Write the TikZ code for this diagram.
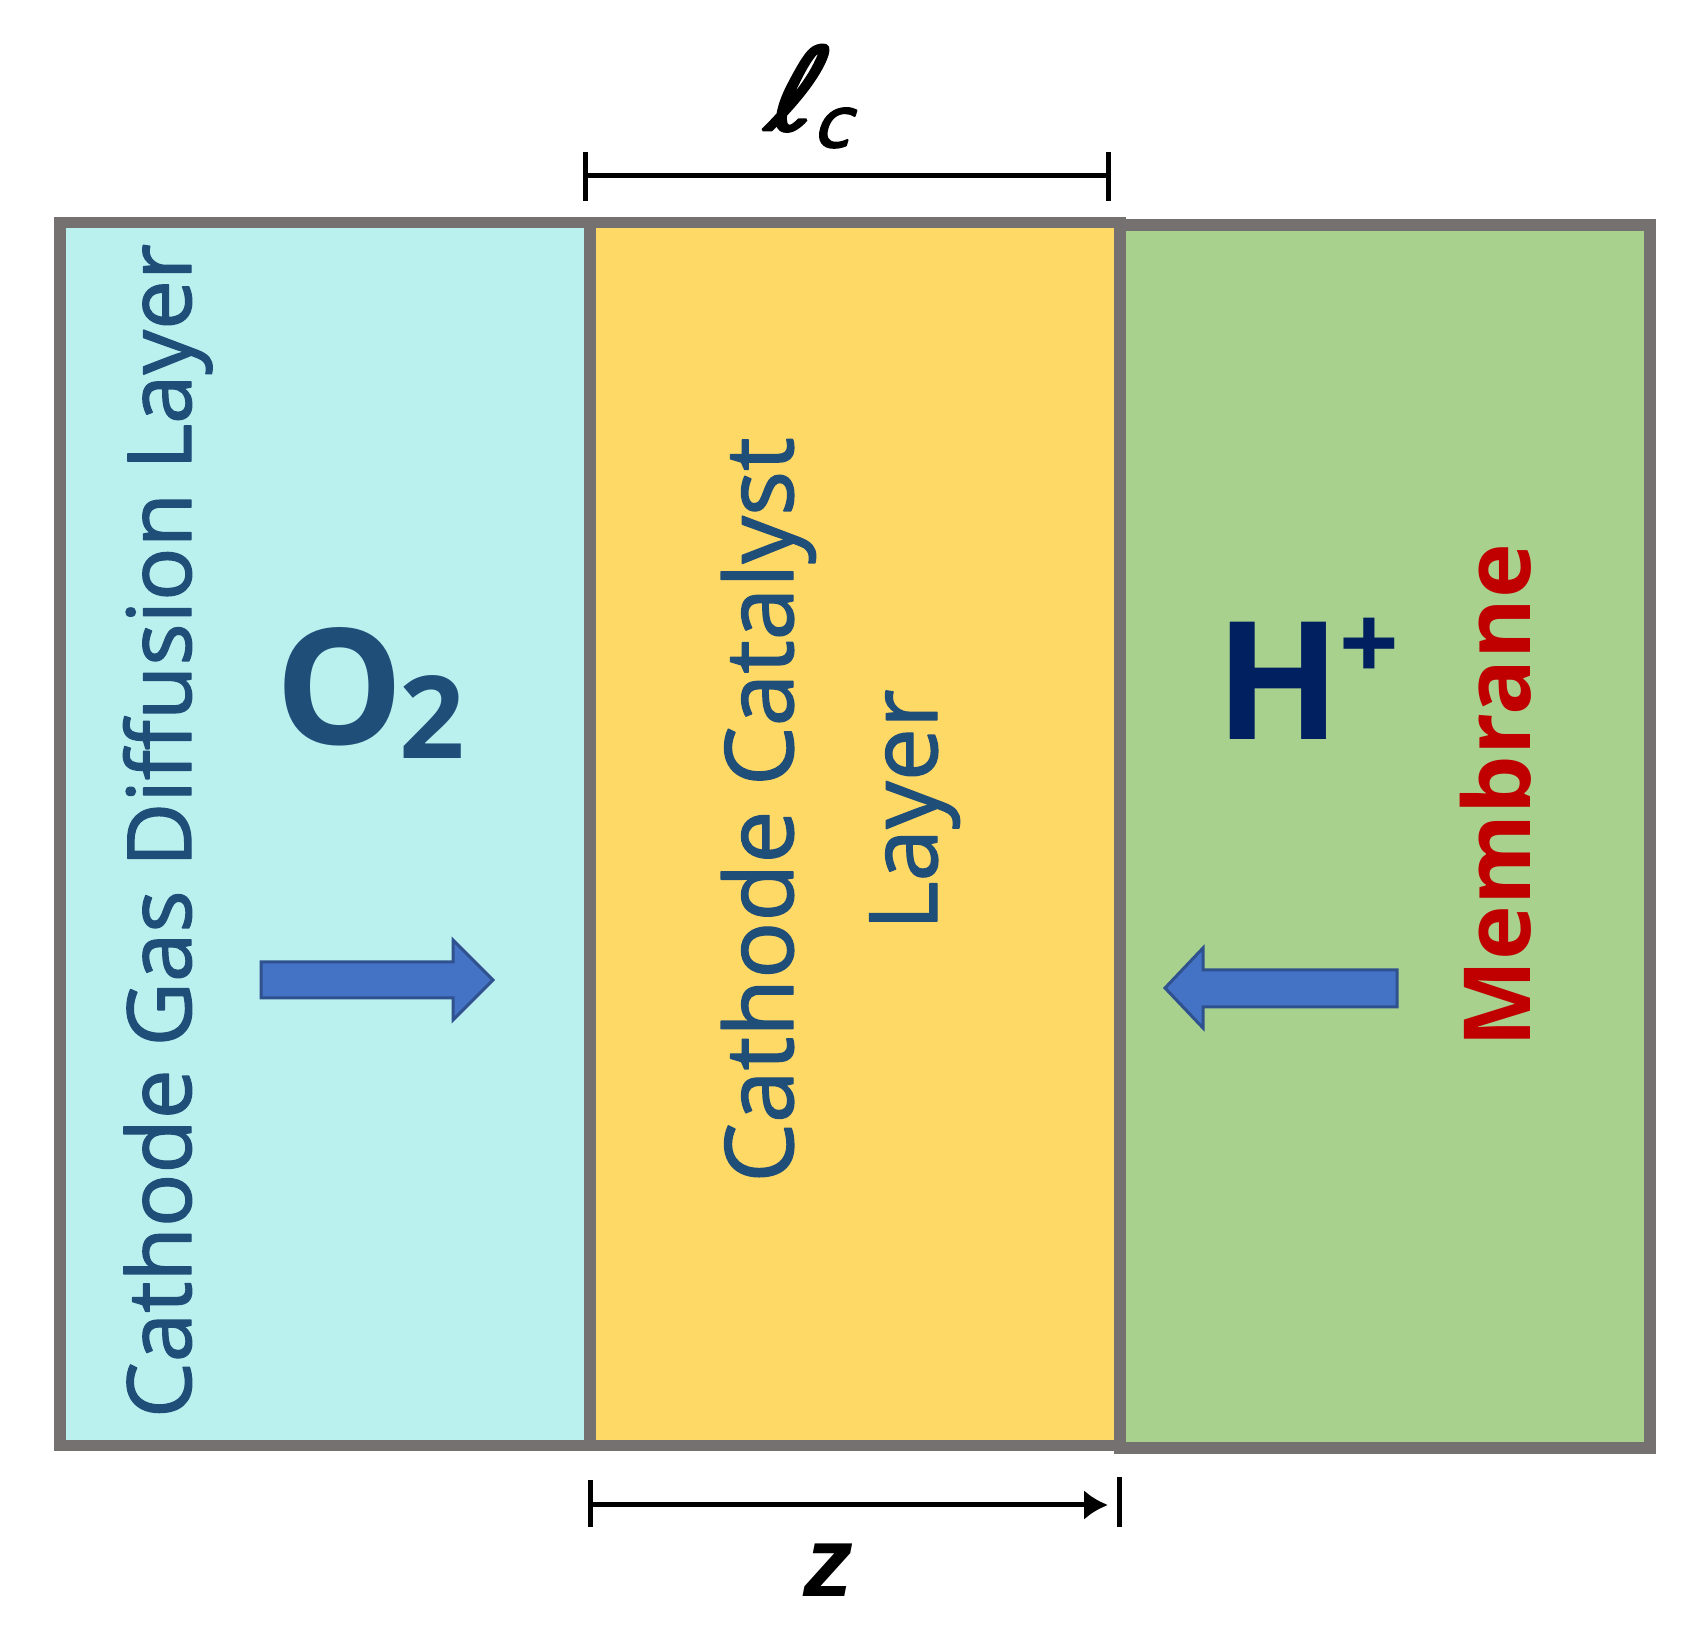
\documentclass[tikz,border=0pt]{standalone}
\usepackage{fontspec}
\usetikzlibrary{arrows.meta}
\newfontfamily\labelfont{Open Sans}
\newfontfamily\layerfont[FakeBold=1.4]{Open Sans}
\newfontfamily\varfont{Liberation Sans}
\newfontfamily\ellfont[FakeSlant=0.3,FakeBold=2.5]{DejaVu Sans}
\definecolor{gdlcyan}{HTML}{BAF0EE}
\definecolor{cclgold}{HTML}{FFD966}
\definecolor{memgreen}{HTML}{A9D18E}
\definecolor{layergray}{HTML}{767171}
\definecolor{labelblue}{HTML}{1F4E79}
\definecolor{ionnavy}{HTML}{002060}
\definecolor{memred}{HTML}{C00000}
\definecolor{fluxfill}{HTML}{4472C4}
\definecolor{fluxedge}{HTML}{2F528F}
\tikzset{
  layerbox/.style={draw=layergray,line width=11.5bp,line join=miter},
  layerlabel/.style={inner sep=0pt,rotate=90,anchor=base,text=labelblue,
    font=\layerfont\fontsize{89}{110}\selectfont},
  fluxarrow/.style={fill=fluxfill,draw=fluxedge,line width=3bp,line join=miter},
  dimline/.style={line width=5bp,black},
}
\begin{document}
\begin{tikzpicture}[>=latex,line join=bevel,]
\useasboundingbox (0bp,0bp) rectangle (1704bp,1638bp);
%% layers
\draw [layerbox,fill=gdlcyan] (60bp,192.5bp) rectangle (590bp,1415.5bp);
\draw [layerbox,fill=memgreen] (1120bp,190bp) rectangle (1650bp,1413bp);
\draw [layerbox,fill=cclgold] (590bp,192.5bp) rectangle (1120bp,1415.5bp);
%% labels
\node (gdl_label) at (191bp,807bp) [layerlabel] {Cathode Gas Diffusion Layer};
\node (ccl_label_a) at (793bp,828bp) [layerlabel,font=\layerfont\fontsize{95}{110}\selectfont] {Cathode Catalyst};
\node (ccl_label_b) at (937bp,828bp) [layerlabel,font=\layerfont\fontsize{95}{110}\selectfont] {Layer};
\node (mem_label) at (1530bp,842bp) [layerlabel,text=memred,font=\labelfont\bfseries\fontsize{93}{100}\selectfont] {Membrane};
\node (o2_label) at (275bp,893bp) [anchor=base west,inner sep=0pt,text=labelblue,font=\labelfont\bfseries\fontsize{162}{162}\selectfont] {O\kern-4bp\raisebox{-14bp}{\fontsize{115}{115}\selectfont 2}};
\node (h_label) at (1215bp,898bp) [anchor=base west,inner sep=0pt,text=ionnavy,font=\labelfont\bfseries\fontsize{165}{165}\selectfont] {H\kern-1bp\raisebox{59bp}{\fontsize{105}{105}\selectfont +}};
%% fluxes
\draw [fluxarrow] (261bp,640bp) -- (453bp,640bp) -- (453bp,618bp) -- (493bp,658bp) -- (453bp,698bp) -- (453bp,676bp) -- (261bp,676bp) -- cycle;
\draw [fluxarrow] (1397bp,631bp) -- (1203bp,631bp) -- (1203bp,610bp) -- (1165bp,650bp) -- (1203bp,690bp) -- (1203bp,668bp) -- (1397bp,668bp) -- cycle;
%% thickness and coordinate
\coordinate (lc_left) at (585bp,1462bp);
\coordinate (lc_right) at (1108bp,1462bp);
\draw [dimline] (lc_left) -- (lc_right);
\draw [dimline] ([yshift=24bp]lc_left) -- ([yshift=-25bp]lc_left);
\draw [dimline] ([yshift=24bp]lc_right) -- ([yshift=-25bp]lc_right);
\node (lc_label) at (764bp,1508bp) [anchor=base west,inner sep=0pt,font=\ellfont\fontsize{115}{115}\selectfont] {ℓ\raisebox{-17bp}{\fontsize{70}{70}\selectfont c}};
%
\coordinate (z_start) at (590bp,133bp);
\coordinate (z_end) at (1108bp,133bp);
\coordinate (z_stop) at (1119bp,133bp);
\draw [dimline,-{Latex[length=24bp,width=30bp]}] (z_start) -- (z_end);
\draw [dimline] ([yshift=25bp]z_start) -- ([yshift=-22bp]z_start);
\draw [dimline] ([yshift=28bp]z_stop) -- ([yshift=-22bp]z_stop);
\node (z_label) at (828bp,41bp) [anchor=base,inner sep=0pt,font=\varfont\bfseries\itshape\fontsize{100}{100}\selectfont] {z};
%
\end{tikzpicture}
\end{document}
